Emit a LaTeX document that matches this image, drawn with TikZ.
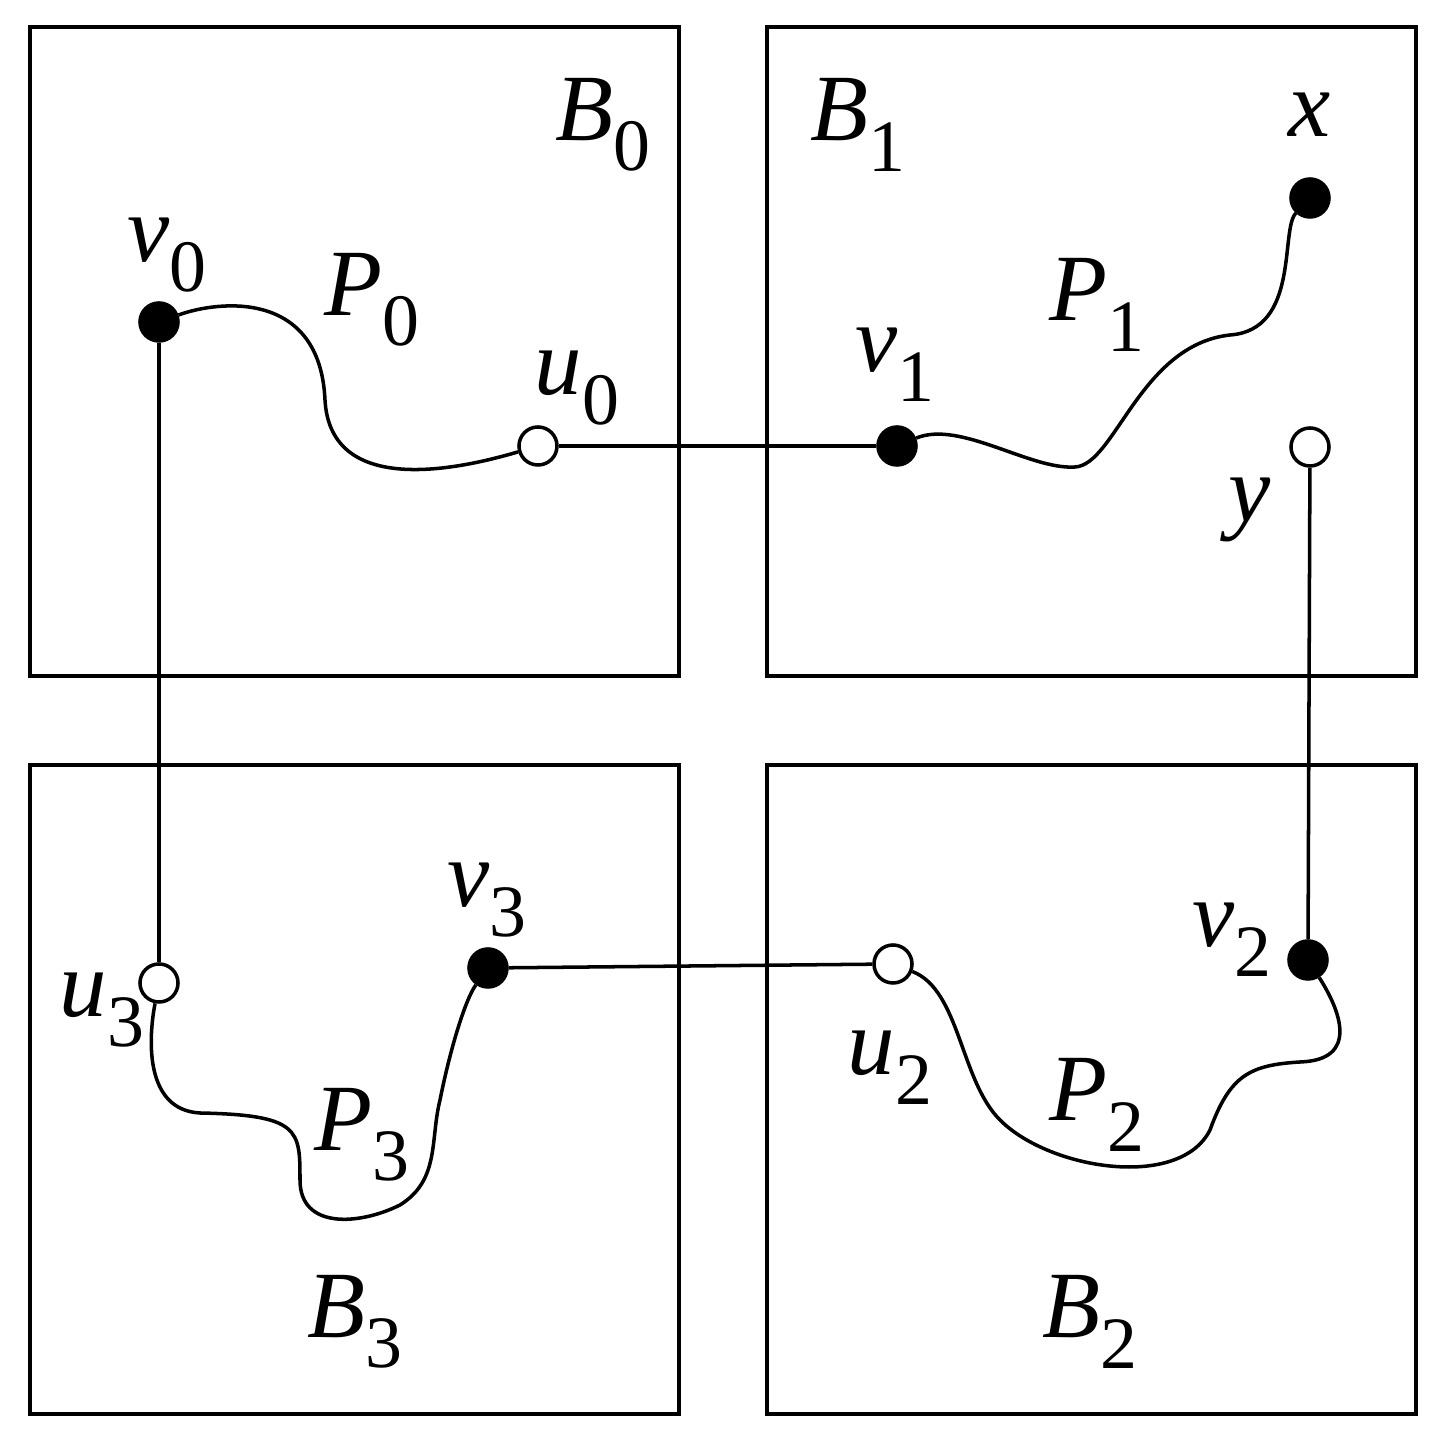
\documentclass[tikz,border=0pt]{standalone}
\usepackage{fontspec}
\setmainfont{Liberation Serif}
\newcommand{\mylab}[2]{{\fontsize{27}{30}\selectfont\textit{#1}\raisebox{-0.32em}{\fontsize{21}{24}\selectfont #2}}}
\begin{document}
\begin{tikzpicture}[x=0.01cm,y=-0.01cm,line width=1pt,
 box/.style={draw,line width=1pt},
 bv/.style={circle,draw,fill=black,minimum size=0.38cm,inner sep=0pt,line width=1pt},
 wv/.style={circle,draw,fill=white,minimum size=0.38cm,inner sep=0pt,line width=1pt},
 lb/.style={inner sep=0pt}]
\useasboundingbox (0,0) rectangle (1447,1443);
\draw[box] (30,27) rectangle (679,676);
\draw[box] (767,27) rectangle (1416,676);
\draw[box] (30,765) rectangle (679,1414);
\draw[box] (767,765) rectangle (1416,1414);
\node[bv] (v0) at (159,322) {};
\node[wv] (u0) at (538,446) {};
\node[bv] (v1) at (897,446) {};
\node[bv] (x) at (1310,198) {};
\node[wv] (y) at (1310,447) {};
\node[bv] (v2) at (1308,960) {};
\node[wv] (u2) at (893,964) {};
\node[bv] (v3) at (488,968) {};
\node[wv] (u3) at (159,983) {};
\draw (u0) -- (v1);
\draw (v0) -- (u3);
\draw (y) -- (v2);
\draw (v3) -- (u2);
\draw (v0) .. controls (220,300) and (320,290) .. (325,400) .. controls (330,490) and (440,475) .. (u0);
\draw (v1) .. controls (960,420) and (1030,470) .. (1075,467) .. controls (1115,465) and (1140,345) .. (1230,335) .. controls (1300,330) and (1280,230) .. (x);
\draw (u2) .. controls (960,990) and (960,1080) .. (1000,1120) .. controls (1050,1170) and (1180,1190) .. (1210,1130) .. controls (1230,1075) and (1250,1065) .. (1300,1062) .. controls (1360,1060) and (1340,1010) .. (v2);
\draw (u3) .. controls (148,1040) and (145,1110) .. (200,1113) .. controls (300,1115) and (300,1130) .. (300,1180) .. controls (300,1230) and (360,1225) .. (400,1205) .. controls (440,1180) and (430,1140) .. (440,1100) .. controls (450,1050) and (465,1000) .. (v3);
\node[lb] (lB0) at (603,125) {\mylab{B}{0}};
\node[lb] (lB1) at (858,125) {\mylab{B}{1}};
\node[lb] (lx) at (1310,130) {\mylab{x}{}};
\node[lb] (lv0) at (167,255) {\mylab{v}{0}};
\node[lb] (lP0) at (372,300) {\mylab{P}{0}};
\node[lb] (lu0) at (577,388) {\mylab{u}{0}};
\node[lb] (lv1) at (895,365) {\mylab{v}{1}};
\node[lb] (lP1) at (1097,305) {\mylab{P}{1}};
\node[lb] (ly) at (1250,515) {\mylab{y}{}};
\node[lb] (lv2) at (1232,940) {\mylab{v}{2}};
\node[lb] (lu2) at (890,1068) {\mylab{u}{2}};
\node[lb] (lP2) at (1097,1105) {\mylab{P}{2}};
\node[lb] (lv3) at (487,900) {\mylab{v}{3}};
\node[lb] (lu3) at (102,1010) {\mylab{u}{3}};
\node[lb] (lP3) at (362,1135) {\mylab{P}{3}};
\node[lb] (lB3) at (355,1322) {\mylab{B}{3}};
\node[lb] (lB2) at (1090,1322) {\mylab{B}{2}};
\end{tikzpicture}
\end{document}
